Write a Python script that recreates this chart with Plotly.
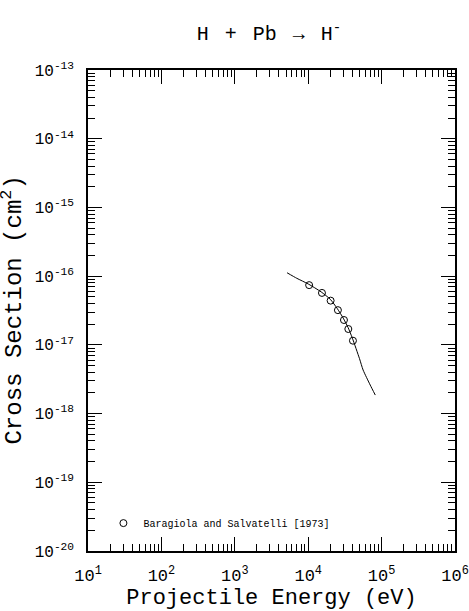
import plotly.graph_objects as go

# Experimental data: Baragiola and Salvatelli (1973)
exp_energy = [1.03e4, 1.54e4, 2.02e4, 2.54e4, 3.07e4, 3.52e4, 4.07e4]
exp_sigma = [7.4e-17, 5.7e-17, 4.4e-17, 3.2e-17, 2.3e-17, 1.70e-17, 1.15e-17]

# Recommended fit curve
fit_energy = [5.15e3, 7.0e3, 1.0e4, 1.5e4, 2.0e4, 2.5e4, 3.0e4, 3.5e4, 4.0e4, 5.0e4, 5.6e4, 7.0e4, 8.2e4]
fit_sigma = [1.12e-16, 9.3e-17, 7.7e-17, 5.9e-17, 4.6e-17, 3.35e-17, 2.45e-17, 1.78e-17, 1.25e-17, 6.3e-18, 4.3e-18, 2.6e-18, 1.86e-18]

x_decades = [1, 2, 3, 4, 5, 6]
x_ticktext = ["10<sup>%d</sup>" % d for d in x_decades]
y_decades = [-20, -19, -18, -17, -16, -15, -14, -13]
y_ticktext = ["10<sup>%d</sup>" % d for d in y_decades]

FONT = "Liberation Mono"
SEP = "\u00a0\u2009"

fig = go.Figure()
fig.add_trace(go.Scatter(
    x=fit_energy, y=fit_sigma, mode="lines",
    line=dict(color="black", width=1, shape="spline", smoothing=0.6), showlegend=False,
))
fig.add_trace(go.Scatter(
    x=exp_energy, y=exp_sigma, mode="markers",
    marker=dict(symbol="circle-open", size=7, color="black", line=dict(width=1)),
    name="Baragiola and Salvatelli [1973]",
))

axis_common = dict(
    type="log", showgrid=False, zeroline=False, automargin=False,
    showline=True, linecolor="black", linewidth=1.5, mirror="allticks",
    ticks="inside", ticklen=14, tickwidth=1, tickcolor="black",
    minor=dict(ticks="inside", ticklen=7, tickwidth=1, tickcolor="black",
               dtick="D1", showgrid=False),
)

fig.update_xaxes(
    **axis_common,
    range=[1, 6], tickmode="array",
    tickvals=[10 ** d for d in x_decades], ticktext=x_ticktext,
    tickfont=dict(family=FONT, size=17, color="black"),
    ticklabelstandoff=8,
    title=dict(text="Projectile Energy (eV)", font=dict(family=FONT, size=22, color="black"), standoff=6),
)
fig.update_yaxes(
    **axis_common,
    range=[-20, -13], tickmode="array",
    tickvals=[10.0 ** d for d in y_decades], ticktext=y_ticktext,
    tickfont=dict(family=FONT, size=16, color="black"),
    ticklabelstandoff=9,
)

fig.add_annotation(
    text="Cross Section (cm<sup>2</sup>)", textangle=-90,
    xref="paper", yref="paper", x=-0.207, y=0.5, xanchor="center", yanchor="middle",
    showarrow=False, font=dict(family=FONT, size=24, color="black"),
)

fig.update_layout(
    width=469, height=611,
    margin=dict(l=88, r=14, t=70, b=60),
    paper_bgcolor="white", plot_bgcolor="white",
    title=dict(text=SEP.join(["H", "+", "Pb", "→", "H<sup>-</sup>"]),
               x=0.5736, xanchor="center", y=0.946, yanchor="middle",
               font=dict(family=FONT, size=20, color="black")),
    legend=dict(x=0.042, y=0.058, xanchor="left", yanchor="middle", bgcolor="rgba(0,0,0,0)",
                itemwidth=30, font=dict(family=FONT, size=10, color="black")),
    showlegend=True,
)

fig.write_html("out.html", config={"displayModeBar": False},
               post_script="document.body.style.margin='0';")
